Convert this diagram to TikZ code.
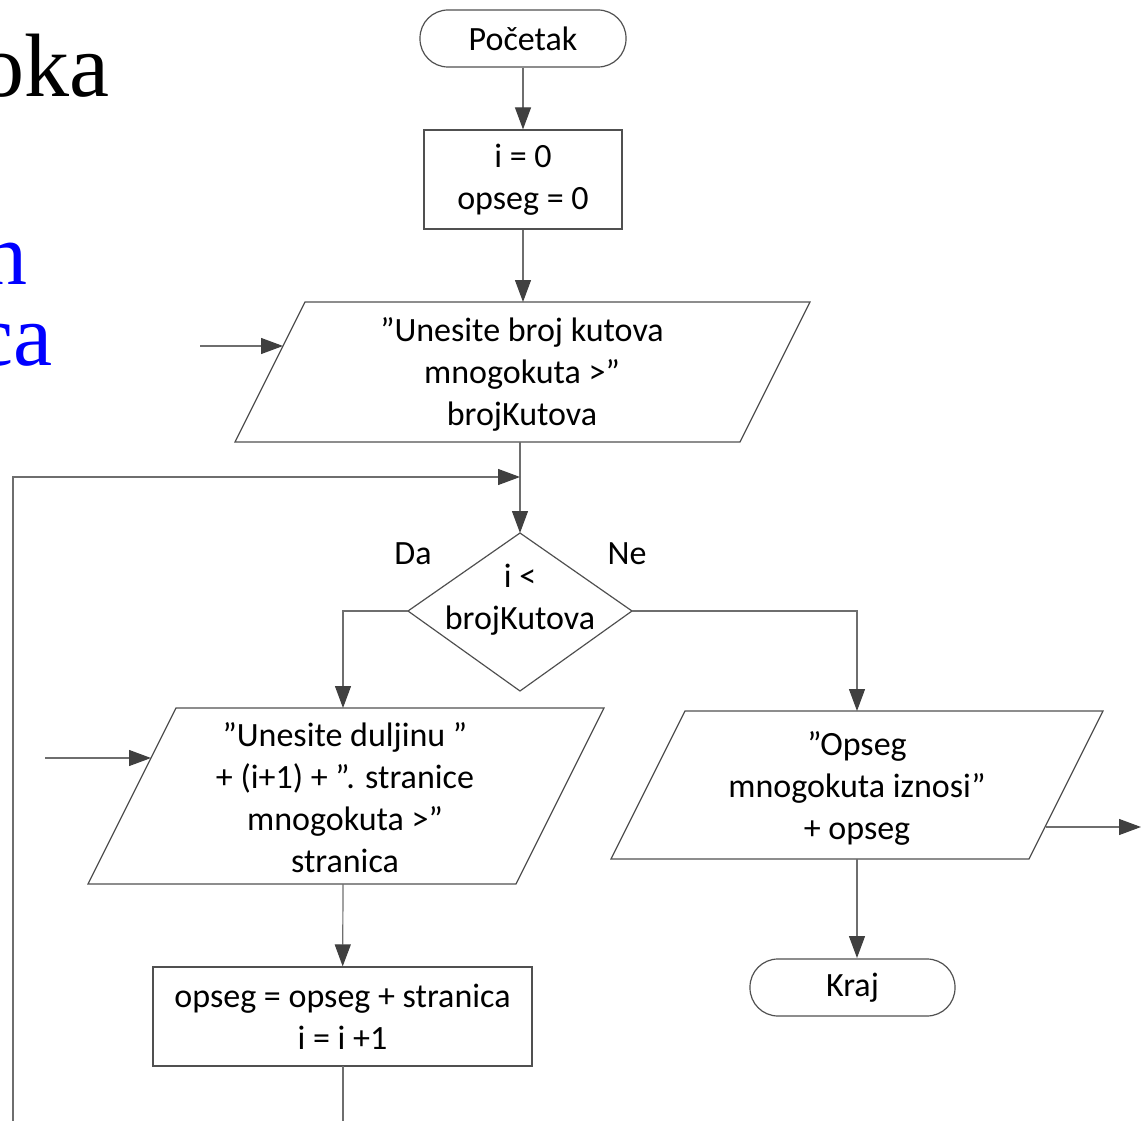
\documentclass[tikz,border=0pt]{standalone}
\usepackage{fontspec}
\setmainfont{Carlito}
\newfontfamily\titlefont{Liberation Serif}
\usetikzlibrary{arrows.meta}
\definecolor{shapegray}{RGB}{80,80,80}
\definecolor{linegray}{RGB}{110,110,110}
\definecolor{tipgray}{RGB}{64,64,64}
\definecolor{slideblue}{RGB}{0,0,255}
\begin{document}
\begin{tikzpicture}[x=1pt,y=-1pt,
  every node/.style={font=\fontsize{34}{42}\selectfont, text=black},
  shapeline/.style={draw=shapegray, line width=1.2pt},
  term/.style={shapeline, rounded corners=28pt, minimum height=57pt, inner sep=0pt},
  proc/.style={shapeline, minimum height=99pt, inner sep=0pt, align=center},
  txt/.style={align=center, inner sep=0pt, yshift=-2pt},
  flow/.style={draw=linegray, line width=1.2pt, -{Triangle[length=22pt,width=16pt,color=tipgray]}},
  wire/.style={draw=linegray, line width=1.2pt}]
\useasboundingbox (0,0) rectangle (1141,1121);

% slide text behind the chart (runs off the left edge)
\node[anchor=base east, inner sep=0pt, font=\titlefont\fontsize{90}{90}\selectfont] (title) at (110,97) {oka};
\node[anchor=base east, inner sep=0pt, font=\titlefont\fontsize{88}{88}\selectfont, text=slideblue] (blue1) at (28,284) {n};
\node[anchor=base east, inner sep=0pt, font=\titlefont\fontsize{88}{88}\selectfont, text=slideblue] (blue2) at (53,365) {ca};

% start and initialisation
\node[term, minimum width=206pt] (start) at (523,38.5) {Početak};
\node[proc, minimum width=198pt] (init) at (523,179.5) {i = 0\\opseg = 0};

% input: number of corners
\draw[shapeline] (305,302) -- (810,302) -- (740,442) -- (235,442) -- cycle;
\node[txt] (inN) at (522,372) {”Unesite broj kutova\\mnogokuta >”\\brojKutova};
\coordinate (inNtop) at (523,302);
\coordinate (inNbot) at (520,442);
\coordinate (inNleft) at (283,346);
\coordinate (inNfeed) at (200,346);

% loop condition
\draw[shapeline] (520,533) -- (632,611) -- (520,691) -- (408,611) -- cycle;
\node[txt] (cond) at (520,598) {i <\\brojKutova};
\coordinate (ctop) at (520,533);
\coordinate (cleft) at (408,611);
\coordinate (cright) at (632,611);
\coordinate (merge) at (520,477);
\node[txt] (yes) at (413,552) {Da};
\node[txt] (no) at (627,552) {Ne};

% input: side length
\draw[shapeline] (176,708) -- (604,708) -- (516,884) -- (88,884) -- cycle;
\node[txt] (inS) at (345,796) {”Unesite duljinu ”\\+ (i+1) + ”. stranice\\mnogokuta >”\\stranica};
\coordinate (inStop) at (343,708);
\coordinate (inSbot) at (343,884);
\coordinate (inSleft) at (151,758);
\coordinate (inSfeed) at (45,758);

% output: perimeter
\draw[shapeline] (685,711) -- (1103,711) -- (1029,859) -- (611,859) -- cycle;
\node[txt] (outP) at (857,786) {”Opseg\\mnogokuta iznosi”\\+ opseg};
\coordinate (outPtop) at (857,711);
\coordinate (outPbot) at (857,859);
\coordinate (outPright) at (1046,827);
\coordinate (outPexit) at (1141,827);

% accumulate and end
\node[proc, minimum width=379pt] (acc) at (342.5,1016.5) {opseg = opseg + stranica\\i = i +1};
\coordinate (accbot) at (343,1066);
\coordinate (accexit) at (343,1121);
\coordinate (loopfoot) at (13,1121);
\node[term, minimum width=205pt] (stop) at (852.5,987.5) {Kraj};
\coordinate (stoptop) at (857,958);

% connectors
\draw[flow] (start) -- (init);
\draw[flow] (init) -- (inNtop);
\draw[flow] (inNfeed) -- (inNleft);
\draw[flow] (inNbot) -- (ctop);
\draw[flow] (loopfoot) |- (merge);
\draw[flow] (cleft) -| (inStop);
\draw[flow] (cright) -| (outPtop);
\draw[flow] (inSfeed) -- (inSleft);
\draw[flow] (inSbot) -- (acc);
\draw[wire] (accbot) -- (accexit);
\draw[flow] (outPbot) -- (stoptop);
\draw[flow] (outPright) -- (outPexit);
\end{tikzpicture}
\end{document}
